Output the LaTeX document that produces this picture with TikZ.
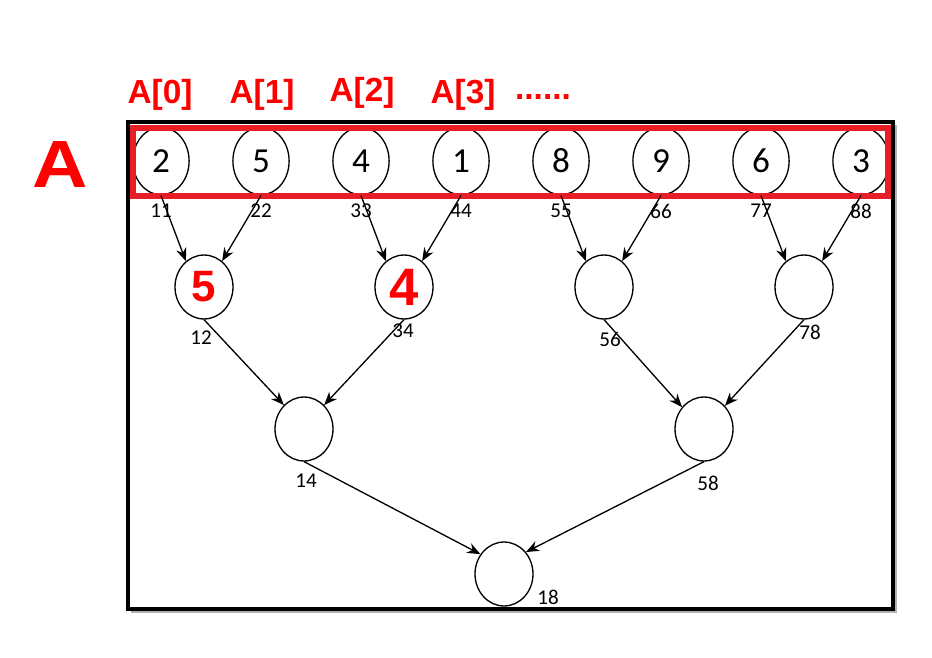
\documentclass[tikz,border=0pt]{standalone}
\usepackage{fontspec}
\setmainfont{Carlito}
\newfontfamily\redfont{Liberation Sans}
\usetikzlibrary{arrows.meta,shapes.geometric,positioning}
\definecolor{boxred}{RGB}{232,30,38}
\definecolor{txtred}{RGB}{255,0,0}
\tikzset{every picture/.style={line width=0.75pt}}
\tikzset{
  cell/.style={ellipse, draw, inner sep=0pt, minimum width=32pt, minimum height=38.5pt, font=\fontsize{20}{20}\selectfont},
  cellb/.style={ellipse, draw, inner sep=0pt, minimum width=33pt, minimum height=36.4pt},
  idx/.style={inner sep=0pt, font=\fontsize{12}{12}\selectfont},
  arr/.style={-{Stealth[length=7.5pt,width=6pt]}},
  redlbl/.style={inner sep=0pt, text=txtred, font=\redfont\bfseries\fontsize{19}{19}\selectfont}
}

\begin{document}
\begin{tikzpicture}[x=0.02cm,y=-0.02cm]
    \useasboundingbox (0,0) rectangle (932,658);

    % 外框 (带阴影)
    \fill[black!30] (131,125) rectangle (897,613);
    \draw[line width=2.3pt, fill=white] (128,122) rectangle (893,609);

    % 第一层: 数组 A
    \foreach \v [count=\i from 0] in {2,5,4,1,8,9,6,3}
        \node[cell] (a\i) at (161+100*\i,161) {\v};
    \foreach \t [count=\i from 0] in {11,22,33,44,55,66,77,88}
        \node[idx] (t\i) at (161+100*\i,211) {\t};

    % 红色框住数组
    \draw[boxred, line width=3.2pt] (133,128) rectangle (888,196);

    % 第二层
    \node[cellb] (b0) at (204,287) {\textcolor{txtred}{\redfont\bfseries\fontsize{25}{25}\selectfont 5}};
    \node[cellb] (b1) at (404,287) {\textcolor{txtred}{\redfont\bfseries\fontsize{30}{30}\selectfont 4}};
    \node[cellb] (b2) at (604,287) {};
    \node[cellb] (b3) at (804,287) {};
    \node[idx] (s0) at (201,338) {12};
    \node[idx] (s1) at (403,331) {34};
    \node[idx] (s2) at (610,339) {56};
    \node[idx] (s3) at (810,332) {78};

    % 第三层
    \node[cellb] (c0) at (304,429) {};
    \node[cellb] (c1) at (704,429) {};
    \node[idx] (u0) at (306,481) {14};
    \node[idx] (u1) at (708,483) {58};

    % 根
    \node[cellb] (r) at (504,574) {};
    \node[idx] (v) at (548,597) {18};

    % 箭头
    \foreach \i/\j in {0/0,2/1,4/2,6/3}
        \draw[arr] (a\i.south) -- (b\j.125);
    \foreach \i/\j in {1/0,3/1,5/2,7/3}
        \draw[arr] (a\i.south) -- (b\j.55);
    \draw[arr] (b0.south) -- (c0.130);
    \draw[arr] (b1.south) -- (c0.50);
    \draw[arr] (b2.south) -- (c1.135);
    \draw[arr] (b3.south) -- (c1.48);
    \draw[arr] (c0.south) -- (r.140);
    \draw[arr] (c1.south) -- (r.45);

    % 红色标注
    \node[redlbl, font=\redfont\bfseries\fontsize{38}{38}\selectfont, xscale=1.15] (bigA) at (60,165) {A};
    \node[redlbl] (i0) at (160,95) {A[0]};
    \node[redlbl] (i1) at (262,95) {A[1]};
    \node[redlbl] (i2) at (362,93) {A[2]};
    \node[redlbl] (i3) at (463,95) {A[3]};
    \node[redlbl] (dots) at (543,97) {......};
\end{tikzpicture}
\end{document}
